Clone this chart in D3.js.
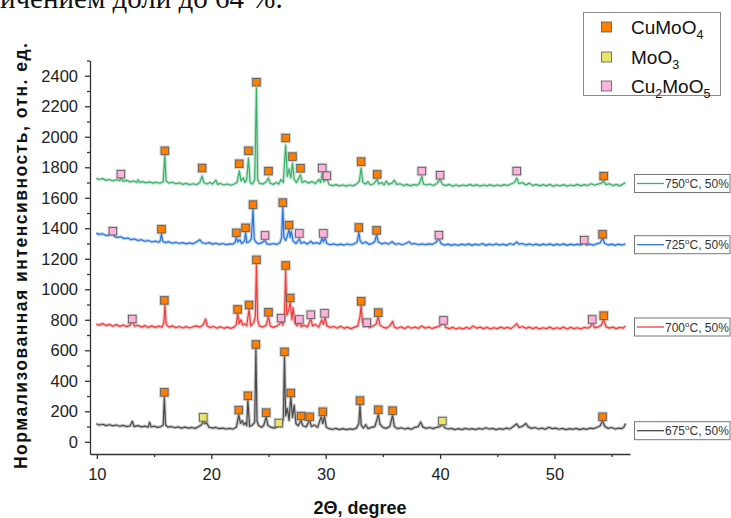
<!DOCTYPE html>
<html>
<head>
<meta charset="utf-8">
<script src="https://cdn.jsdelivr.net/npm/d3@7"></script>
<style>
  body { margin: 0; background: #fff; }
  svg { display: block; font-family: Arial, "Liberation Sans", sans-serif; }
</style>
</head>
<body>
<svg id="chart" width="731" height="518"></svg>
<script>
// series names (temperature labels)
const seriesNames = ["675", "700", "725", "750"];
const seriesColors = ["#4a4a4a", "#f03c3c", "#2a74e0", "#3cb06a"];

// traced patterns, [2theta, intensity]
const trace675 = [[9.95,118],[10.2,110],[10.5,115],[10.8,106],[11.1,112],[11.4,104],[11.7,110],[12.0,102],[12.3,108],[12.6,100],[12.9,104],[13.1,135],[13.25,100],[13.6,106],[13.9,98],[14.2,103],[14.5,96],[14.6,128],[14.75,98],[15.0,102],[15.3,95],[15.6,100],[15.8,110],[15.9,290],[16.0,112],[16.2,96],[16.5,100],[16.8,92],[17.1,98],[17.4,90],[17.7,96],[18.0,90],[18.3,94],[18.6,88],[18.9,100],[19.15,112],[19.3,133],[19.45,118],[19.6,125],[19.8,96],[20.1,90],[20.4,94],[20.7,86],[21.0,90],[21.3,84],[21.6,88],[21.9,84],[22.2,95],[22.4,178],[22.55,120],[22.7,140],[22.85,112],[23.0,125],[23.1,105],[23.2,274],[23.35,100],[23.6,110],[23.8,130],[23.9,609],[24.0,135],[24.15,105],[24.4,95],[24.6,110],[24.8,164],[24.95,108],[25.2,96],[25.5,90],[25.8,98],[25.95,108],[26.1,100],[26.3,150],[26.4,565],[26.5,170],[26.65,220],[26.8,140],[26.95,296],[27.1,160],[27.25,240],[27.4,120],[27.6,105],[27.85,140],[28.0,105],[28.3,98],[28.6,142],[28.75,100],[29.0,110],[29.3,95],[29.6,165],[29.75,120],[29.9,170],[30.05,95],[30.3,86],[30.6,82],[30.9,88],[31.2,80],[31.5,86],[31.8,80],[32.1,85],[32.4,82],[32.7,90],[32.9,120],[33.0,243],[33.1,110],[33.3,90],[33.5,112],[33.7,86],[34.0,95],[34.3,100],[34.5,150],[34.6,180],[34.75,115],[35.0,95],[35.3,88],[35.6,100],[35.85,175],[36.0,100],[36.3,86],[36.6,92],[36.9,84],[37.2,90],[37.5,82],[37.8,95],[38.1,100],[38.3,130],[38.5,96],[38.8,88],[39.1,94],[39.4,86],[39.7,95],[40.0,100],[40.2,115],[40.4,92],[40.7,84],[41.0,88],[41.3,80],[41.6,86],[41.9,80],[42.2,88],[42.5,82],[42.8,86],[43.1,80],[43.4,88],[43.7,82],[44.0,92],[44.3,84],[44.6,88],[44.9,80],[45.2,86],[45.5,82],[45.8,90],[46.1,84],[46.4,100],[46.7,118],[46.9,95],[47.2,102],[47.5,120],[47.7,98],[48.0,88],[48.3,94],[48.6,84],[48.9,90],[49.2,82],[49.5,95],[49.8,86],[50.1,90],[50.4,82],[50.7,88],[51.0,80],[51.3,86],[51.6,82],[51.9,88],[52.2,80],[52.5,86],[52.8,82],[53.1,90],[53.4,86],[53.7,94],[54.0,105],[54.2,140],[54.4,100],[54.7,88],[55.0,94],[55.3,84],[55.6,90],[55.9,86],[56.1,100],[56.2,120]];

const trace700 = [[9.95,772],[10.2,765],[10.5,775],[10.8,762],[11.1,770],[11.4,758],[11.7,768],[12.0,757],[12.3,766],[12.6,755],[12.9,765],[13.1,790],[13.3,758],[13.6,764],[13.9,752],[14.2,762],[14.5,750],[14.8,760],[15.1,750],[15.4,758],[15.7,752],[15.85,780],[15.95,895],[16.05,770],[16.3,752],[16.6,760],[16.9,748],[17.2,756],[17.5,746],[17.8,755],[18.1,746],[18.4,754],[18.7,760],[19.0,752],[19.3,768],[19.5,805],[19.65,760],[19.9,750],[20.2,756],[20.5,745],[20.8,754],[21.1,744],[21.4,752],[21.7,744],[22.0,752],[22.2,770],[22.3,840],[22.45,775],[22.6,800],[22.75,765],[22.9,775],[23.1,760],[23.3,870],[23.45,760],[23.7,780],[23.85,820],[23.95,1165],[24.05,800],[24.2,760],[24.5,752],[24.8,765],[25.0,820],[25.15,760],[25.4,750],[25.7,758],[25.95,770],[26.1,790],[26.25,765],[26.4,820],[26.5,1125],[26.6,830],[26.75,860],[26.9,915],[27.05,800],[27.15,880],[27.3,780],[27.5,760],[27.7,790],[27.85,755],[28.1,765],[28.4,752],[28.7,810],[28.85,760],[29.1,770],[29.4,752],[29.65,800],[29.8,770],[29.95,815],[30.1,760],[30.4,750],[30.7,756],[31.0,745],[31.3,758],[31.6,744],[31.9,752],[32.2,742],[32.5,750],[32.8,760],[33.0,820],[33.1,895],[33.2,790],[33.4,755],[33.6,770],[33.8,748],[34.1,758],[34.4,770],[34.6,820],[34.75,765],[35.0,752],[35.3,745],[35.6,760],[35.85,790],[36.0,752],[36.3,744],[36.6,754],[36.9,742],[37.2,756],[37.5,745],[37.8,752],[38.1,744],[38.4,760],[38.7,745],[39.0,752],[39.3,743],[39.6,750],[40.0,760],[40.3,780],[40.5,750],[40.8,742],[41.1,750],[41.4,740],[41.7,748],[42.0,740],[42.3,750],[42.6,742],[42.9,760],[43.2,745],[43.5,752],[43.8,742],[44.1,750],[44.4,740],[44.7,748],[45.0,742],[45.3,752],[45.6,744],[45.9,750],[46.2,742],[46.5,760],[46.7,775],[46.9,748],[47.2,756],[47.5,744],[47.8,752],[48.1,742],[48.4,750],[48.7,740],[49.0,748],[49.3,742],[49.6,752],[49.9,740],[50.2,748],[50.5,742],[50.8,752],[51.1,740],[51.4,750],[51.7,742],[52.0,748],[52.3,740],[52.6,750],[52.9,745],[53.2,760],[53.3,780],[53.5,748],[53.8,752],[54.1,765],[54.3,805],[54.5,755],[54.8,745],[55.1,752],[55.4,742],[55.7,750],[56.0,745],[56.2,760]];

const trace725 = [[9.95,1368],[10.2,1360],[10.5,1364],[10.8,1352],[11.1,1356],[11.4,1365],[11.55,1345],[11.8,1340],[12.1,1344],[12.4,1332],[12.7,1336],[13.0,1325],[13.3,1330],[13.6,1320],[13.9,1325],[14.2,1315],[14.5,1320],[14.8,1310],[15.1,1316],[15.4,1308],[15.55,1320],[15.65,1365],[15.75,1315],[16.0,1306],[16.3,1312],[16.6,1302],[16.9,1308],[17.2,1300],[17.5,1306],[17.8,1298],[18.1,1304],[18.4,1298],[18.7,1310],[19.0,1325],[19.2,1305],[19.5,1300],[19.8,1306],[20.1,1296],[20.4,1302],[20.7,1294],[21.0,1300],[21.3,1293],[21.6,1298],[21.9,1296],[22.1,1310],[22.2,1345],[22.3,1310],[22.5,1325],[22.65,1300],[22.9,1315],[23.0,1375],[23.1,1305],[23.3,1310],[23.5,1330],[23.65,1525],[23.75,1330],[23.9,1310],[24.1,1298],[24.4,1304],[24.7,1322],[24.85,1298],[25.1,1294],[25.4,1300],[25.7,1294],[26.0,1305],[26.15,1340],[26.25,1540],[26.35,1340],[26.5,1320],[26.65,1350],[26.8,1395],[26.9,1340],[27.0,1380],[27.15,1315],[27.4,1300],[27.7,1330],[27.85,1300],[28.1,1310],[28.4,1296],[28.7,1315],[28.9,1300],[29.2,1306],[29.5,1298],[29.7,1335],[29.8,1310],[29.95,1340],[30.1,1300],[30.4,1292],[30.7,1298],[31.0,1290],[31.3,1296],[31.6,1290],[31.9,1297],[32.2,1292],[32.5,1298],[32.75,1310],[32.9,1375],[33.0,1320],[33.2,1300],[33.5,1310],[33.8,1294],[34.1,1302],[34.3,1315],[34.45,1358],[34.6,1310],[34.9,1298],[35.2,1305],[35.5,1296],[35.8,1312],[36.1,1294],[36.4,1300],[36.7,1292],[37.0,1300],[37.3,1312],[37.5,1296],[37.8,1300],[38.1,1292],[38.4,1298],[38.7,1292],[39.0,1298],[39.3,1294],[39.6,1305],[39.9,1330],[40.1,1298],[40.4,1290],[40.7,1296],[41.0,1288],[41.3,1294],[41.6,1288],[41.9,1296],[42.2,1290],[42.5,1298],[42.8,1288],[43.1,1296],[43.4,1290],[43.7,1300],[44.0,1288],[44.3,1296],[44.6,1290],[44.9,1298],[45.2,1290],[45.5,1296],[45.8,1288],[46.1,1300],[46.4,1292],[46.7,1310],[46.9,1296],[47.2,1300],[47.5,1290],[47.8,1298],[48.1,1290],[48.4,1296],[48.7,1288],[49.0,1296],[49.3,1290],[49.6,1298],[49.9,1288],[50.2,1296],[50.5,1290],[50.8,1298],[51.1,1288],[51.4,1296],[51.7,1290],[52.0,1296],[52.3,1290],[52.6,1305],[52.8,1290],[53.1,1296],[53.4,1290],[53.7,1298],[54.0,1305],[54.2,1335],[54.4,1300],[54.7,1290],[55.0,1296],[55.3,1288],[55.6,1296],[55.9,1290],[56.2,1298]];

const trace750 = [[9.95,1728],[10.2,1720],[10.5,1726],[10.8,1714],[11.1,1720],[11.4,1710],[11.7,1718],[12.0,1712],[12.1,1730],[12.3,1708],[12.6,1714],[12.9,1704],[13.2,1710],[13.5,1700],[13.6,1718],[13.75,1700],[14.0,1706],[14.3,1698],[14.6,1704],[14.9,1696],[15.2,1702],[15.5,1695],[15.8,1705],[15.94,1880],[16.05,1710],[16.3,1696],[16.6,1702],[16.9,1692],[17.2,1698],[17.5,1688],[17.8,1694],[18.1,1686],[18.4,1692],[18.7,1686],[19.0,1700],[19.2,1742],[19.35,1700],[19.6,1690],[19.9,1700],[20.1,1690],[20.4,1715],[20.55,1688],[20.8,1694],[21.1,1684],[21.4,1690],[21.7,1682],[22.0,1690],[22.25,1700],[22.45,1776],[22.6,1710],[22.8,1730],[22.95,1700],[23.1,1720],[23.25,1860],[23.4,1700],[23.6,1690],[23.8,1720],[23.95,2320],[24.05,1720],[24.2,1695],[24.5,1690],[24.8,1705],[25.0,1730],[25.15,1695],[25.4,1688],[25.7,1700],[25.9,1690],[26.1,1720],[26.3,1700],[26.5,1946],[26.65,1740],[26.8,1790],[26.95,1730],[27.1,1828],[27.25,1720],[27.45,1700],[27.8,1750],[27.95,1700],[28.2,1710],[28.5,1696],[28.8,1706],[29.1,1692],[29.4,1720],[29.55,1700],[29.7,1760],[29.85,1705],[30.1,1725],[30.3,1686],[30.6,1680],[30.9,1686],[31.2,1678],[31.5,1684],[31.8,1676],[32.1,1684],[32.4,1678],[32.7,1690],[32.95,1710],[33.1,1795],[33.25,1700],[33.5,1690],[33.7,1705],[33.9,1684],[34.2,1692],[34.5,1720],[34.65,1690],[34.9,1700],[35.1,1684],[35.3,1710],[35.5,1688],[35.8,1696],[36.0,1715],[36.2,1688],[36.5,1692],[36.8,1680],[37.1,1688],[37.4,1678],[37.7,1686],[38.0,1682],[38.2,1695],[38.4,1740],[38.55,1690],[38.8,1684],[39.1,1690],[39.4,1680],[39.7,1692],[40.0,1720],[40.2,1688],[40.5,1680],[40.8,1688],[41.1,1676],[41.4,1684],[41.7,1676],[42.0,1684],[42.3,1678],[42.6,1688],[42.9,1678],[43.2,1686],[43.5,1676],[43.8,1684],[44.1,1678],[44.4,1686],[44.7,1676],[45.0,1684],[45.3,1678],[45.6,1686],[45.9,1680],[46.2,1690],[46.5,1700],[46.7,1730],[46.9,1692],[47.2,1700],[47.5,1684],[47.8,1696],[48.1,1680],[48.4,1688],[48.7,1678],[49.0,1686],[49.3,1678],[49.6,1688],[49.9,1676],[50.2,1684],[50.5,1678],[50.8,1686],[51.1,1676],[51.4,1684],[51.7,1678],[52.0,1688],[52.3,1678],[52.6,1686],[52.9,1680],[53.2,1692],[53.5,1682],[53.8,1690],[54.1,1695],[54.3,1710],[54.5,1686],[54.8,1692],[55.1,1680],[55.4,1688],[55.7,1678],[56.0,1690],[56.2,1700]];

// phase markers, [2theta, intensity]
const cuMoO4Marks = [
  [15.9,324],[22.4,208],[23.2,302],[23.9,638],[24.8,191],[26.4,590],[26.95,320],[27.85,169],[28.6,164],[29.75,197],[33.0,270],[34.6,210],[35.85,204],[54.2,164],
  [15.9,927],[22.3,868],[23.3,897],[23.95,1193],[25.0,849],[26.5,1156],[26.9,943],[33.1,921],[34.6,847],[54.3,827],
  [15.65,1394],[22.2,1370],[23.0,1403],[23.65,1555],[26.25,1568],[26.8,1421],[32.9,1405],[34.45,1386],[54.2,1360],
  [15.94,1908],[19.2,1795],[22.45,1823],[23.25,1908],[23.95,2358],[25.0,1775],[26.5,1992],[27.1,1870],[27.8,1793],[33.1,1837],[34.5,1753],[54.3,1742]
];
const moO3Marks = [[19.3,160],[25.9,123],[40.2,136]];
const cu2MoO5Marks = [
  [13.1,805],[26.1,811],[27.7,802],[28.7,833],[29.9,842],[33.6,781],[40.3,796],[53.3,802],
  [11.4,1381],[24.7,1353],[27.7,1366],[29.8,1366],[39.9,1355],[52.6,1322],
  [12.1,1755],[29.7,1795],[30.1,1745],[38.4,1775],[40.0,1748],[46.7,1775]
];

const phaseNames = [["CuMoO", "4"], ["MoO", "3"], ["Cu", "2", "MoO", "5"]];
const phaseColors = ["#ff7f00", "#e8e46e", "#ffb3dc"];

const xMajor = [10, 20, 30, 40, 50];
const xMinor = [15, 25, 35, 45, 55];
const yMajor = d3.range(0, 2401, 200);
const yMinor = d3.range(100, 2501, 200);

const svg = d3.select("#chart");

const x = d3.scaleLinear().domain([9.4, 56.6]).range([90, 630]);
const y = d3.scaleLinear().domain([-80, 2500]).range([454, 60.5]);

// cropped line of document text above the figure
svg.append("text")
  .attr("x", 0).attr("y", 8)
  .attr("font-family", "'Liberation Serif', 'DejaVu Serif', serif")
  .attr("font-size", 29)
  .attr("fill", "#111")
  .text("ичением доли до 64 %.");

// axes
const gx = svg.append("g").attr("transform", "translate(0,454)");
gx.call(d3.axisBottom(x).tickValues(xMajor).tickSize(5).tickSizeOuter(0).tickPadding(9));
gx.append("g").call(d3.axisBottom(x).tickValues(xMinor).tickSize(3).tickFormat(""))
  .select(".domain").remove();

const gy = svg.append("g").attr("transform", "translate(90,0)");
gy.call(d3.axisLeft(y).tickValues(yMajor).tickFormat(d3.format("d"))
  .tickSize(5).tickSizeOuter(0).tickPadding(7));
gy.append("g").call(d3.axisLeft(y).tickValues(yMinor).tickSize(3).tickFormat(""))
  .select(".domain").remove();

svg.selectAll(".domain, .tick line").attr("stroke", "#333").attr("stroke-width", 1.3);
svg.selectAll(".tick text").attr("font-size", 16.5).attr("fill", "#222")
  .attr("font-family", "Arial, 'Liberation Sans', sans-serif");

// titles
svg.append("text")
  .attr("x", 360).attr("y", 514)
  .attr("text-anchor", "middle")
  .attr("font-size", 18).attr("font-weight", "bold").attr("fill", "#111")
  .text("2Θ, degree");

svg.append("text")
  .attr("transform", "translate(27,256) rotate(-90)")
  .attr("text-anchor", "middle")
  .attr("font-size", 17.5).attr("font-weight", "bold").attr("fill", "#111")
  .attr("textLength", 426).attr("lengthAdjust", "spacing")
  .text("Нормализованная интенсивность, отн. ед.");

// patterns
const traces = [trace675, trace700, trace725, trace750];
const line = d3.line().x(d => x(d[0])).y(d => y(d[1]));

traces.forEach((t, i) => {
  svg.append("path").datum(t)
    .attr("d", line).attr("fill", "none")
    .attr("stroke", seriesColors[i]).attr("stroke-opacity", 0.3)
    .attr("stroke-width", 3.4).attr("stroke-linejoin", "round");
  svg.append("path").datum(t)
    .attr("d", line).attr("fill", "none")
    .attr("stroke", seriesColors[i])
    .attr("stroke-width", 1.2).attr("stroke-linejoin", "round");
});

// markers
function drawMarks(data, color, size) {
  const g = svg.append("g");
  g.selectAll("rect.halo").data(data).enter().append("rect")
    .attr("class", "halo")
    .attr("x", d => x(d[0]) - size / 2 - 1.5).attr("y", d => y(d[1]) - size / 2 - 1.5)
    .attr("width", size + 3).attr("height", size + 3)
    .attr("fill", "#9a9a9a").attr("fill-opacity", 0.45);
  g.selectAll("rect.mk").data(data).enter().append("rect")
    .attr("class", "mk")
    .attr("x", d => x(d[0]) - size / 2).attr("y", d => y(d[1]) - size / 2)
    .attr("width", size).attr("height", size)
    .attr("fill", color).attr("stroke", "#555").attr("stroke-width", 0.8);
}
drawMarks(cuMoO4Marks, phaseColors[0], 7.5);
drawMarks(moO3Marks, phaseColors[1], 7.5);
drawMarks(cu2MoO5Marks, phaseColors[2], 7.5);

// phase legend
svg.append("rect")
  .attr("x", 583.5).attr("y", 12.5).attr("width", 137).attr("height", 83)
  .attr("fill", "#fff").attr("stroke", "#888").attr("stroke-width", 1);

const legY = [27, 57, 86];
phaseNames.forEach((parts, i) => {
  svg.append("rect")
    .attr("x", 601.5).attr("y", legY[i] - 5).attr("width", 10).attr("height", 10)
    .attr("fill", phaseColors[i]).attr("stroke", "#555").attr("stroke-width", 0.8);
  const t = svg.append("text")
    .attr("x", 631).attr("y", legY[i] + 6.5)
    .attr("font-size", 19).attr("fill", "#111");
  parts.forEach((p, k) => {
    const sub = k % 2 === 1;
    t.append("tspan")
      .attr("font-size", sub ? 12.5 : 19)
      .attr("dy", sub ? 5 : (k > 0 ? -5 : 0))
      .text(p);
  });
});

// series labels on the right
const labelMidY = [430.7, 327, 244.7, 183.5];
seriesNames.forEach((name, i) => {
  const my = labelMidY[i];
  svg.append("rect")
    .attr("x", 634.5).attr("y", my - 9).attr("width", 95.5).attr("height", 18)
    .attr("fill", "#fff").attr("stroke", "#777").attr("stroke-width", 1);
  svg.append("line")
    .attr("x1", 637).attr("x2", 664).attr("y1", my).attr("y2", my)
    .attr("stroke", seriesColors[i]).attr("stroke-width", 1.3);
  const t = svg.append("text")
    .attr("x", 665).attr("y", my + 4.5)
    .attr("font-size", 12).attr("fill", "#333");
  t.append("tspan").text(name);
  t.append("tspan").attr("font-size", 8).attr("dy", -5).text("o");
  t.append("tspan").attr("dy", 5).text("C, 50%");
});
</script>
</body>
</html>
